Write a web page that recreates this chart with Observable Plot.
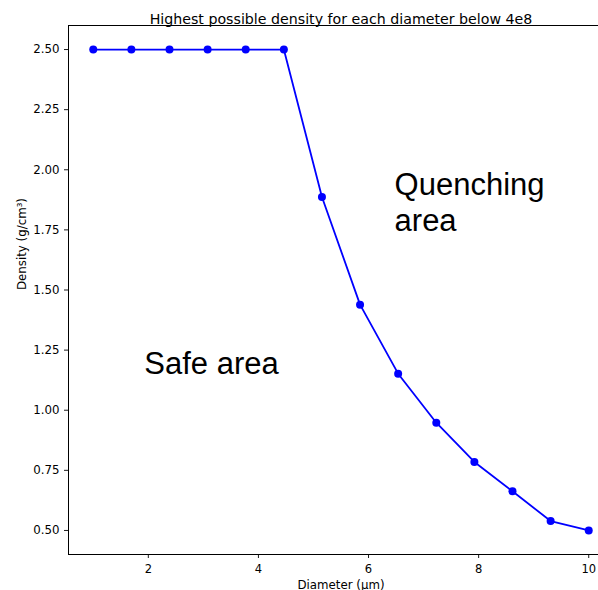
<!DOCTYPE html>
<html>
<head>
<meta charset="utf-8">
<script src="https://cdn.jsdelivr.net/npm/d3@7"></script>
<script src="https://cdn.jsdelivr.net/npm/@observablehq/plot@0.6"></script>
<style>
  html, body { margin: 0; padding: 0; background: white; overflow: hidden; }
  #chart svg { overflow: hidden; display: block; }
</style>
</head>
<body>
<div id="chart"></div>
<script>
// Data
const diameters = [1, 1.692, 2.385, 3.077, 3.769, 4.462, 5.154, 5.846, 6.538, 7.231, 7.923, 8.615, 9.308, 10];
const densities = [2.5, 2.5, 2.5, 2.5, 2.5, 2.5, 1.887, 1.439, 1.152, 0.948, 0.785, 0.663, 0.539, 0.5];

const xTicks = [2, 4, 6, 8, 10];
const yTicks = [0.5, 0.75, 1.0, 1.25, 1.5, 1.75, 2.0, 2.25, 2.5];

const titleText = "Highest possible density for each diameter below 4e8";
const xLabel = "Diameter (μm)";
const yLabel = "Density (g/cm³)";

const noteTexts = ["Quenching\narea", "Safe area"];
const noteX = [6.473, 1.927];
const noteY = [1.745, 1.149];

const data = diameters.map((d, i) => ({diameter: d, density: densities[i]}));
const notes = noteTexts.map((t, i) => ({text: t, x: noteX[i], y: noteY[i]}));

const xDomain = [0.55, 10.45];
const yDomain = [0.4, 2.6];

const chart = Plot.plot({
  width: 598,
  height: 590,
  marginLeft: 68,
  marginRight: -15,
  marginTop: 25,
  marginBottom: 36,
  style: {fontFamily: "DejaVu Sans", fontSize: "11.8px", color: "black", background: "white"},
  x: {domain: xDomain},
  y: {domain: yDomain},
  marks: [
    Plot.axisX({ticks: xTicks, tickSize: 4, tickPadding: 6, label: null, strokeWidth: 0.9, fontSize: 11.5}),
    Plot.axisY({ticks: yTicks, tickFormat: d3.format(".2f"), tickSize: 4, tickPadding: 5, label: null, strokeWidth: 0.9, fontSize: 11.8}),
    Plot.ruleX([xDomain[0]], {stroke: "black", strokeWidth: 1}),
    Plot.ruleY([yDomain[0]], {stroke: "black", strokeWidth: 1}),
    Plot.ruleY([yDomain[1]], {stroke: "black", strokeWidth: 1}),
    Plot.line(data, {x: "diameter", y: "density", stroke: "blue", strokeWidth: 1.8}),
    Plot.dot(data, {x: "diameter", y: "density", fill: "blue", r: 4}),
    Plot.text(notes, {x: "x", y: "y", text: "text", textAnchor: "start", lineAnchor: "bottom", lineHeight: 1.16, fontSize: 31, fontFamily: "Liberation Sans", fill: "black"}),
    Plot.text([titleText], {text: d => d, frameAnchor: "top", dy: -12, fontSize: 14.2, fill: "black"}),
    Plot.text([xLabel], {text: d => d, frameAnchor: "bottom", dy: 34, lineAnchor: "bottom", fontSize: 11.8, fill: "black"}),
    Plot.text([yLabel], {text: d => d, frameAnchor: "left", dx: -46, rotate: -90, fontSize: 11.8, fill: "black"})
  ]
});
document.getElementById("chart").appendChild(chart);
</script>
</body>
</html>
